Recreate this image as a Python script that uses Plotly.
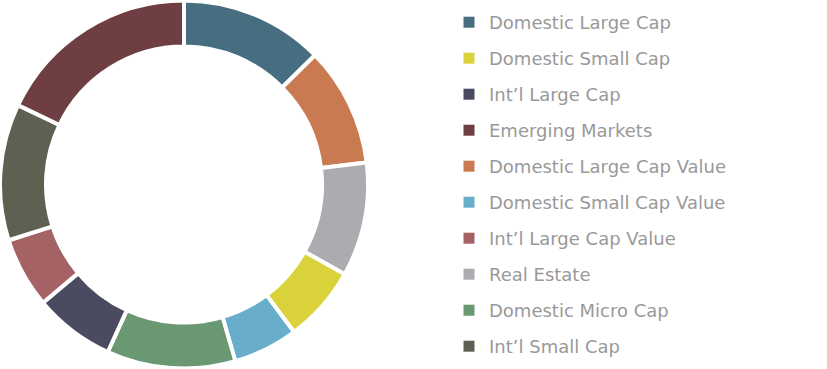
import plotly.graph_objects as go

# Slice order (clockwise from 12 o'clock)
slice_labels = [
    "Domestic Large Cap", "Domestic Large Cap Value", "Real Estate",
    "Domestic Small Cap", "Domestic Small Cap Value", "Domestic Micro Cap",
    "Int’l Large Cap", "Int’l Large Cap Value", "Int’l Small Cap",
    "Emerging Markets",
]
slice_values = [12.6, 10.5, 10.0, 6.7, 5.7, 11.3, 7.1, 6.2, 12.0, 17.9]

colors = {
    "Domestic Large Cap": "#466e80",
    "Domestic Small Cap": "#dad23a",
    "Int’l Large Cap": "#4a4a60",
    "Emerging Markets": "#6e3e42",
    "Domestic Large Cap Value": "#c97a50",
    "Domestic Small Cap Value": "#68aecb",
    "Int’l Large Cap Value": "#a46264",
    "Real Estate": "#abacb0",
    "Domestic Micro Cap": "#6a9872",
    "Int’l Small Cap": "#5e6052",
}

# Legend order
legend_labels = [
    "Domestic Large Cap", "Domestic Small Cap", "Int’l Large Cap",
    "Emerging Markets", "Domestic Large Cap Value", "Domestic Small Cap Value",
    "Int’l Large Cap Value", "Real Estate", "Domestic Micro Cap",
    "Int’l Small Cap",
]

fig = go.Figure()
fig.add_trace(go.Pie(
    labels=slice_labels,
    values=slice_values,
    hole=0.75,
    sort=False,
    direction="clockwise",
    rotation=0,
    textinfo="none",
    showlegend=False,
    marker=dict(colors=[colors[l] for l in slice_labels],
                line=dict(color="white", width=4)),
    domain=dict(x=[0, 368 / 827], y=[0, 1]),
))

for i, lab in enumerate(legend_labels):
    fig.add_trace(go.Scatter(
        x=[None], y=[None], mode="markers", name=lab,
        legendgroup=f"g{i}",
        marker=dict(symbol="square", size=11, color=colors[lab]),
    ))

fig.update_layout(
    width=827, height=369,
    margin=dict(l=0, r=0, t=0, b=0),
    paper_bgcolor="white", plot_bgcolor="white",
    xaxis=dict(visible=False), yaxis=dict(visible=False),
    font=dict(family="DejaVu Sans", color="#999999", size=18),
    legend=dict(
        x=449 / 827, xanchor="left", y=1 - 4 / 369, yanchor="top",
        traceorder="grouped", tracegroupgap=9.6,
        font=dict(size=18, color="#999999", family="DejaVu Sans"),
        bgcolor="rgba(0,0,0,0)",
    ),
)

fig.write_html("out.html",
               config={"displayModeBar": False},
               post_script="document.body.style.margin='0';document.body.style.overflow='hidden';")
